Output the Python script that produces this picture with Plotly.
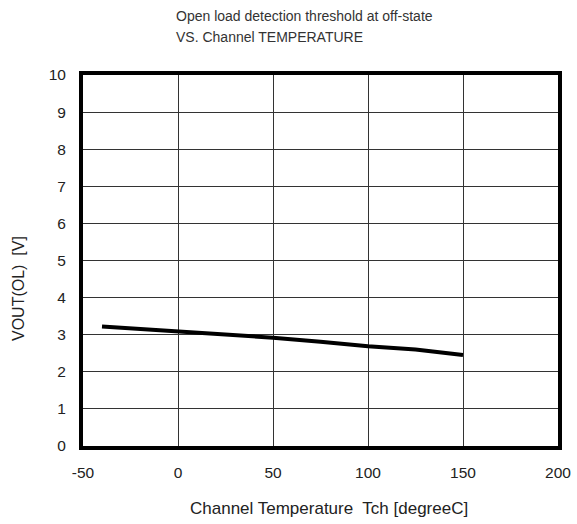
import plotly.graph_objects as go

temps = [-40, 0, 25, 50, 75, 100, 125, 150]
vout_ol = [3.22, 3.09, 3.0, 2.92, 2.81, 2.69, 2.60, 2.45]

x_ticks = [-50, 0, 50, 100, 150, 200]
x_labels = ["-50", "0", "50", "100", "150", "200"]
y_ticks = list(range(0, 11))

title_lines = ["Open load detection threshold at off-state", "VS. Channel TEMPERATURE"]
x_title = "Channel Temperature  Tch [degreeC]"
y_title = "VOUT(OL)  [V]"

font = "Liberation Sans, Arial, sans-serif"

# plot area in pixels (for placing the free texts)
L, R, T, B = 83, 558, 75, 446


def px_x(px):
    return (px - L) / (R - L)


def px_y(py):
    return (B - py) / (B - T)


fig = go.Figure()

fig.add_trace(
    go.Scatter(
        x=temps,
        y=vout_ol,
        mode="lines",
        line=dict(color="black", width=4),
        showlegend=False,
    )
)

annotations = []
for line, py in zip(title_lines, [16, 37]):
    annotations.append(
        dict(
            text=line,
            xref="paper",
            yref="paper",
            x=px_x(174),
            y=px_y(py),
            xanchor="left",
            yanchor="middle",
            showarrow=False,
            font=dict(size=14, color="#333"),
        )
    )
annotations.append(
    dict(
        text=x_title,
        xref="paper",
        yref="paper",
        x=px_x(329),
        y=px_y(508),
        xanchor="center",
        yanchor="middle",
        showarrow=False,
        font=dict(size=17, color="#222"),
    )
)
annotations.append(
    dict(
        text=y_title,
        xref="paper",
        yref="paper",
        x=px_x(18),
        y=px_y(289),
        xanchor="center",
        yanchor="middle",
        textangle=-90,
        showarrow=False,
        font=dict(size=16, color="#222"),
    )
)

fig.update_layout(
    width=577,
    height=524,
    margin=dict(l=L, r=577 - R, t=T, b=524 - B),
    plot_bgcolor="white",
    paper_bgcolor="white",
    font=dict(family=font, size=15.5, color="#222"),
    annotations=annotations,
)

fig.update_xaxes(
    range=[-50, 200],
    tickvals=x_ticks,
    ticktext=x_labels,
    automargin=False,
    showgrid=True,
    gridcolor="#333",
    gridwidth=1,
    showline=True,
    linecolor="black",
    linewidth=4,
    mirror=True,
    zeroline=False,
    ticks="outside",
    ticklen=9,
    tickcolor="rgba(0,0,0,0)",
)

fig.update_yaxes(
    range=[0, 10],
    tickvals=y_ticks,
    automargin=False,
    showgrid=True,
    gridcolor="#333",
    gridwidth=1,
    showline=True,
    linecolor="black",
    linewidth=4,
    mirror=True,
    zeroline=False,
    ticks="outside",
    ticklen=10,
    tickcolor="rgba(0,0,0,0)",
)

# page body has a default margin; drop it so the figure sits at the corner
fig.write_html(
    "out.html",
    config={"displayModeBar": False},
    post_script="document.body.style.margin = '0';",
)
